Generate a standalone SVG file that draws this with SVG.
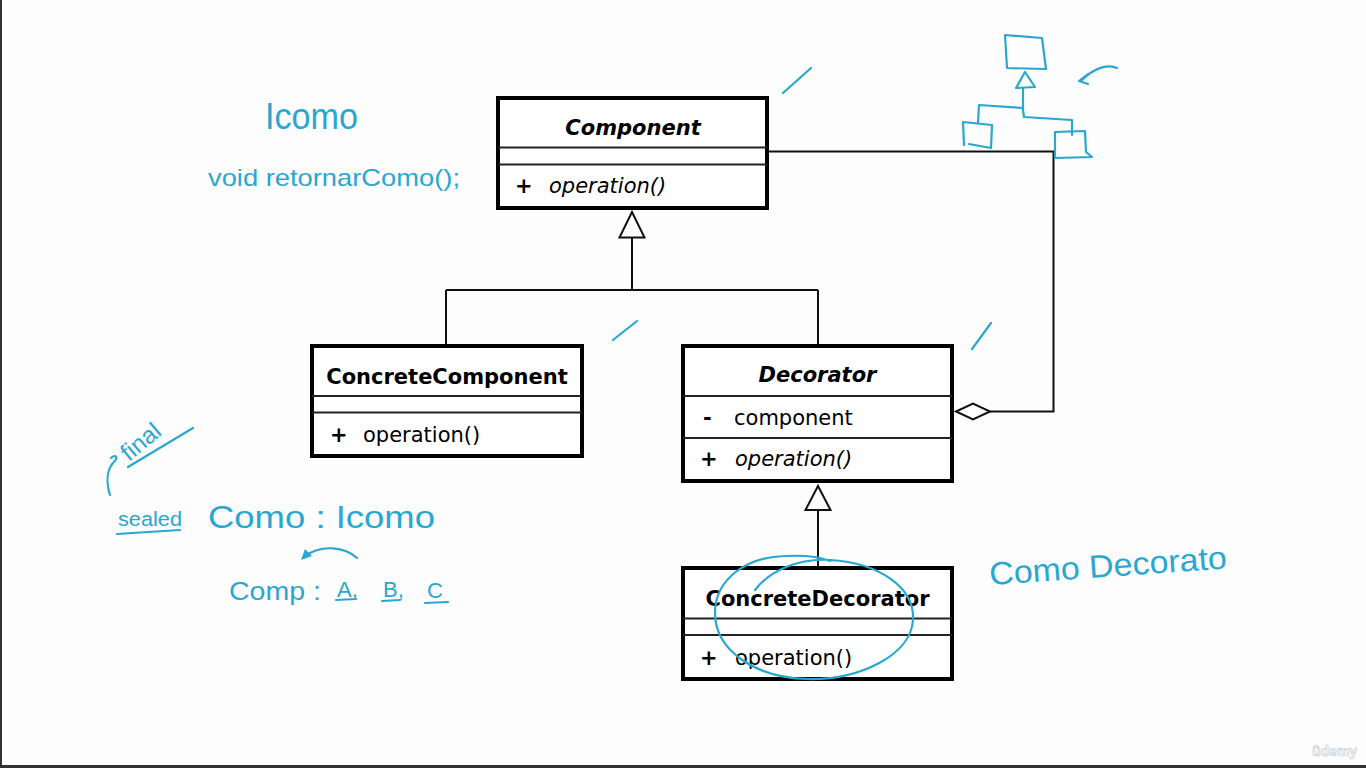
<svg xmlns="http://www.w3.org/2000/svg" width="1366" height="768" viewBox="0 0 1366 768">
<style>
.box{fill:#fff;stroke:#000;stroke-width:4}
.div{stroke:#222;stroke-width:2}
.t{font-family:"DejaVu Sans",sans-serif;font-size:21px;fill:#000}
.b{font-weight:bold}
.i{font-style:italic}
.c{text-anchor:middle}
.ln{fill:none;stroke:#111;stroke-width:2}
.hw{fill:none;stroke:#2aa7d0;stroke-width:2.2;stroke-linecap:round;stroke-linejoin:round}
.ht{font-family:"Liberation Sans",sans-serif;fill:#2aa7d0}
</style>
<rect x="0" y="0" width="1366" height="768" fill="#fdfdfd"/>
<rect x="0" y="0" width="2" height="768" fill="#333"/>
<rect x="0" y="765" width="1366" height="3" fill="#333"/>

<g id="connectors">
  <path class="ln" d="M632,238 V290 M446,290 H818 M446,290 V344 M818,290 V344"/>
  <polygon points="632,212 619.5,237.5 644.5,237.5" fill="#fff" stroke="#111" stroke-width="2"/>
  <path class="ln" d="M818,510 V566"/>
  <polygon points="818,486 805.5,510 830.5,510" fill="#fff" stroke="#111" stroke-width="2"/>
  <path class="ln" d="M769,151.5 H1053.5 V411.5 H990"/>
  <polygon points="956,411.5 973,403.5 990,411.5 973,419.5" fill="#fff" stroke="#111" stroke-width="2"/>
</g>

<g id="Component">
  <rect class="box" x="498" y="98" width="269" height="110"/>
  <line class="div" x1="498" y1="147.5" x2="767" y2="147.5"/>
  <line class="div" x1="498" y1="164.5" x2="767" y2="164.5"/>
  <text class="t b i c" x="633" y="135">Component</text>
  <text class="t b" x="515" y="193">+</text>
  <text class="t i" x="549" y="193">operation()</text>
</g>

<g id="ConcreteComponent">
  <rect class="box" x="312" y="346" width="270" height="110"/>
  <line class="div" x1="312" y1="396" x2="582" y2="396"/>
  <line class="div" x1="312" y1="412.5" x2="582" y2="412.5"/>
  <text class="t b c" x="447" y="384">ConcreteComponent</text>
  <text class="t b" x="330" y="442">+</text>
  <text class="t" x="363" y="442">operation()</text>
</g>

<g id="Decorator">
  <rect class="box" x="683" y="346" width="269" height="135"/>
  <line class="div" x1="683" y1="396" x2="952" y2="396"/>
  <line class="div" x1="683" y1="438" x2="952" y2="438"/>
  <text class="t b i c" x="817.5" y="382">Decorator</text>
  <text class="t b" x="703" y="425">-</text>
  <text class="t" x="734" y="425">component</text>
  <text class="t b" x="700" y="466">+</text>
  <text class="t i" x="735" y="466">operation()</text>
</g>

<g id="ConcreteDecorator">
  <rect class="box" x="683" y="568" width="269" height="111"/>
  <line class="div" x1="683" y1="618.5" x2="952" y2="618.5"/>
  <line class="div" x1="683" y1="635" x2="952" y2="635"/>
  <text class="t b c" x="817.5" y="606">ConcreteDecorator</text>
  <text class="t b" x="700" y="665">+</text>
  <text class="t" x="735" y="665">operation()</text>
</g>

<g id="annotations">
  <path class="hw" d="M783,93 L811,68"/>
  <path class="hw" d="M613,340 L637,321"/>
  <path class="hw" d="M972,349 L991,323"/>
  <path class="hw" d="M1005,35 L1042,38 L1046,69 L1007,68 Z"/>
  <path class="hw" d="M1025,72 L1016,88 L1035,87 Z"/>
  <path class="hw" d="M1023,88 L1023,110 L1024,117 M979,105 L1023,108 M979,105 L978,123 M1024,117 L1072,120 L1072,135"/>
  <path class="hw" d="M963,122 L992,125 L991,148 L969,144 M963,122 L964,145"/>
  <path class="hw" d="M1055,132 L1085,131 L1086,152 L1092,157 L1055,158 Z"/>
  <path class="hw" d="M1117,68 C1106,63 1092,70 1082,80 M1088,74 L1079,81 L1088,84"/>
  <path class="hw" stroke-width="1.8" d="M755,590 C770,570 800,558 830,560 C880,563 915,588 913,620 C911,655 860,680 808,679 C755,678 715,650 715,613 C715,580 745,557 785,556 C805,555 820,557 830,561"/>
  <path class="hw" d="M128,467 L193,428"/>
  <path class="hw" d="M110,495 C106,482 107,470 113,463 M111,458 C115,454 119,457 114,462"/>
  <path class="hw" d="M117,534 L180,530"/>
  <path class="hw" d="M357,558 C345,547 322,544 305,556"/>
  <polygon points="301,560 305,549 312,556" fill="#2aa7d0"/>
  <path class="hw" d="M336,600 L356,599 M382,601 L400,600 M425,603 L448,602"/>
  <text class="ht" x="265" y="129" font-size="36" textLength="93" lengthAdjust="spacingAndGlyphs">Icomo</text>
  <text class="ht" x="208" y="186" font-size="24" textLength="252" lengthAdjust="spacingAndGlyphs">void retornarComo();</text>
  <text class="ht" font-size="24" transform="translate(129,462) rotate(-40)">final</text>
  <text class="ht" x="118" y="526" font-size="20" textLength="64" lengthAdjust="spacingAndGlyphs">sealed</text>
  <text class="ht" x="208" y="528" font-size="32" textLength="227" lengthAdjust="spacingAndGlyphs">Como : Icomo</text>
  <text class="ht" x="229" y="600" font-size="25" textLength="92" lengthAdjust="spacingAndGlyphs">Comp :</text>
  <text class="ht" x="337" y="597" font-size="22">A,</text>
  <text class="ht" x="383" y="597" font-size="22">B,</text>
  <text class="ht" x="427" y="598" font-size="22">C</text>
  <text class="ht" font-size="32" textLength="238" lengthAdjust="spacingAndGlyphs" transform="translate(990,585) rotate(-4)">Como Decorato</text>
</g>

<text x="1312" y="756" font-family="Liberation Sans, sans-serif" font-size="14" font-weight="bold" fill="#fafafa" stroke="#c8c8c8" stroke-width="0.6">ûdemy</text>
</svg>
